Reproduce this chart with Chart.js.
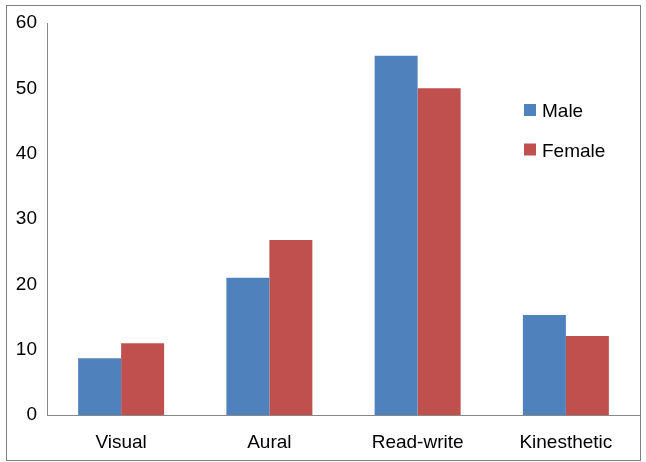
<!DOCTYPE html>
<html>
<head>
<meta charset="utf-8">
<script src="https://cdn.jsdelivr.net/npm/chart.js@4"></script>
<style>
  html, body { margin: 0; padding: 0; background: #fff; }
  #wrap { width: 646px; height: 462px; position: relative; }
</style>
</head>
<body>
<div id="wrap"><canvas id="myChart" width="646" height="462"></canvas></div>
<script>
const categories = ['Visual', 'Aural', 'Read-write', 'Kinesthetic'];
const maleValues = [8.7, 21, 55, 15.3];
const femaleValues = [11, 26.8, 50, 12.1];
const seriesLabels = ['Male', 'Female'];
const seriesColors = ['#4F81BD', '#C0504D'];

const FONT = 'Liberation Sans, Arial, sans-serif';

// outer frame + legend drawn on the canvas
const framePlugin = {
  id: 'frame',
  afterDraw(chart) {
    const ctx = chart.ctx;
    ctx.save();
    ctx.strokeStyle = '#7f7f7f';
    ctx.lineWidth = 1;
    ctx.strokeRect(6.5, 5.5, 634, 455);
    // legend
    ctx.font = '19px ' + FONT;
    ctx.textBaseline = 'alphabetic';
    chart.data.datasets.forEach((ds, i) => {
      const y = 104 + i * 39.5;
      ctx.fillStyle = ds.backgroundColor;
      ctx.fillRect(524, y, 12, 12);
      ctx.fillStyle = '#000';
      ctx.fillText(ds.label, 542, y + 13);
    });
    ctx.restore();
  }
};

const ctx = document.getElementById('myChart').getContext('2d');
new Chart(ctx, {
  type: 'bar',
  data: {
    labels: categories,
    datasets: [
      { label: seriesLabels[0], data: maleValues, backgroundColor: seriesColors[0] },
      { label: seriesLabels[1], data: femaleValues, backgroundColor: seriesColors[1] }
    ]
  },
  options: {
    responsive: false,
    animation: false,
    layout: { padding: { left: 0, right: 6, top: 23, bottom: 0 } },
    datasets: { bar: { categoryPercentage: 0.58, barPercentage: 1.0 } },
    plugins: { legend: { display: false }, tooltip: { enabled: false } },
    scales: {
      x: {
        grid: { display: false, drawTicks: false },
        border: { display: true, color: '#888', width: 1 },
        ticks: { color: '#000', font: { family: FONT, size: 19 }, padding: 16, maxRotation: 0 },
        afterFit(scale) { scale.height = 47; }
      },
      y: {
        min: 0, max: 60,
        grid: { display: false, drawTicks: false },
        border: { display: true, color: '#888', width: 1 },
        ticks: { stepSize: 10, color: '#000', font: { family: FONT, size: 19 }, padding: 10 },
        afterFit(scale) { scale.width = 47; }
      }
    }
  },
  plugins: [framePlugin]
});
</script>
</body>
</html>
